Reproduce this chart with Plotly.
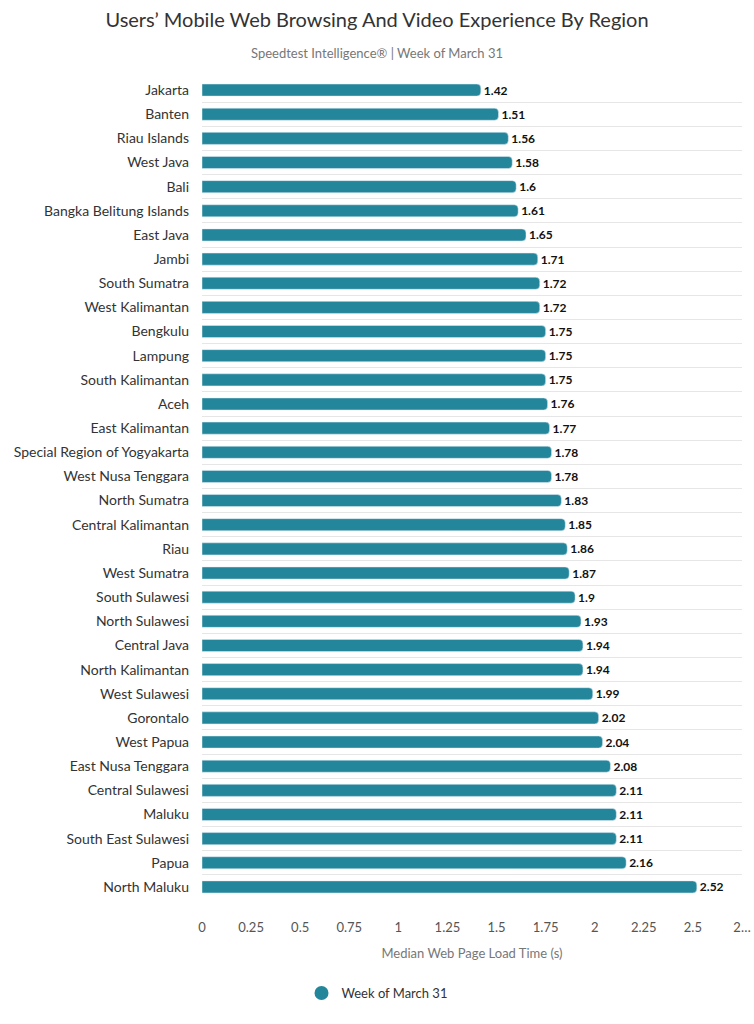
import plotly.graph_objects as go

regions = ["Jakarta", "Banten", "Riau Islands", "West Java", "Bali", "Bangka Belitung Islands",
           "East Java", "Jambi", "South Sumatra", "West Kalimantan", "Bengkulu", "Lampung",
           "South Kalimantan", "Aceh", "East Kalimantan", "Special Region of Yogyakarta",
           "West Nusa Tenggara", "North Sumatra", "Central Kalimantan", "Riau", "West Sumatra",
           "South Sulawesi", "North Sulawesi", "Central Java", "North Kalimantan", "West Sulawesi",
           "Gorontalo", "West Papua", "East Nusa Tenggara", "Central Sulawesi", "Maluku",
           "South East Sulawesi", "Papua", "North Maluku"]
load_time = [1.42, 1.51, 1.56, 1.58, 1.6, 1.61, 1.65, 1.71, 1.72, 1.72, 1.75, 1.75, 1.75, 1.76,
             1.77, 1.78, 1.78, 1.83, 1.85, 1.86, 1.87, 1.9, 1.93, 1.94, 1.94, 1.99, 2.02, 2.04,
             2.08, 2.11, 2.11, 2.11, 2.16, 2.52]
tick_vals = [0, 0.25, 0.5, 0.75, 1, 1.25, 1.5, 1.75, 2, 2.25, 2.5, 2.75]
tick_text = ["0", "0.25", "0.5", "0.75", "1", "1.25", "1.5", "1.75", "2", "2.25", "2.5", "2…"]
series_name = "Week of March 31"

COLOR = "#23869b"
FONT = "Lato"

fig = go.Figure()
fig.add_trace(go.Bar(
    x=load_time, y=regions, orientation="h",
    marker=dict(color=COLOR, cornerradius=4),
    width=0.5,
    text=[f"{v:g}" for v in load_time], textposition="outside",
    constraintext="none",
    textfont=dict(family=FONT, size=12, color="#111", weight="bold"),
    cliponaxis=False, showlegend=False, hoverinfo="x+y",
))
fig.add_trace(go.Scatter(
    x=[None], y=[None], mode="markers", name=series_name,
    marker=dict(color=COLOR, size=14, symbol="circle"), showlegend=True,
))

L, R, T, B = 202, 12, 78, 125
fig.update_layout(
    width=754, height=1024,
    margin=dict(l=L, r=R, t=T, b=B, autoexpand=False),
    paper_bgcolor="white", plot_bgcolor="white",
    font=dict(family=FONT, color="#333"),
    title=dict(text="Users’ Mobile Web Browsing And Video Experience By Region",
               x=0.5, xref="container", xanchor="center",
               y=1 - 20 / 1024, yref="container", yanchor="middle",
               font=dict(family=FONT, size=20, color="#333")),
    annotations=[dict(text="Speedtest Intelligence® | Week of March 31",
                      x=(377 - L) / (754 - L - R), xref="paper", xanchor="center",
                      y=(1024 - 53 - B) / (1024 - T - B), yref="paper", yanchor="middle",
                      showarrow=False, font=dict(family=FONT, size=13, color="#777"))],
    legend=dict(orientation="h", x=0.5, xref="container", xanchor="center",
                y=1 - 993 / 1024, yref="container", yanchor="middle",
                font=dict(family=FONT, size=13, color="#333")),
    bargap=0.5,
)

fig.update_xaxes(range=[0, 2.75], tickvals=tick_vals, ticktext=tick_text,
                 showgrid=False, zeroline=False, showline=False, automargin=False,
                 tickfont=dict(family=FONT, size=13, color="#555"),
                 ticklabelstandoff=19,
                 title=dict(text="Median Web Page Load Time (s)",
                            font=dict(family=FONT, size=13, color="#777"), standoff=14))
fig.update_yaxes(autorange="reversed", tickson="boundaries", showgrid=True,
                 gridcolor="#e6e6e6", gridwidth=1, showline=False, zeroline=False,
                 ticks="", tickfont=dict(family=FONT, size=14, color="#333"),
                 ticklabelstandoff=12, automargin=False)

fig.write_html("out.html")
